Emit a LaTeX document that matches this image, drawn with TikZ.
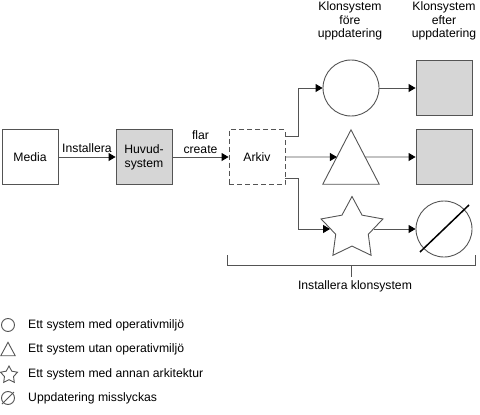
\documentclass[tikz,border=0pt]{standalone}
\usepackage{fontspec}
\setmainfont{Liberation Sans}
\usetikzlibrary{
    arrows.meta,
    shapes.geometric,
    calc,
    positioning
}
\definecolor{boxgray}{gray}{0.84}
\definecolor{linegray}{gray}{0.33}

\begin{document}
\begin{tikzpicture}[x=1pt, y=-1pt,
    every node/.style={font=\fontsize{12.2}{13.8}\selectfont, align=center},
    sysbox/.style={draw=linegray, line width=0.9pt, minimum width=56pt, minimum height=55pt, inner sep=0pt},
    shapeline/.style={draw=linegray, line width=0.9pt},
    arr/.style={draw=linegray, line width=0.9pt, -{Triangle[length=7pt, width=8pt, color=black]}}
]
                        \useasboundingbox (0, 0) rectangle (480, 415);

                        % main chain
                        \node[sysbox] (media) at (30, 157) {Media};
                        \node[sysbox, fill=boxgray] (huvud) at (144, 157) {Huvud-\\system};
                        \node[sysbox, dash pattern=on 5pt off 3pt] (arkiv) at (257, 157) {Arkiv};

                        \draw[arr] (media) -- node[above, inner sep=4pt] {Installera} (huvud);
                        \draw[arr] (huvud) -- node[above, inner sep=3pt] {flar\\create} (arkiv);

                        % clone systems before update
                        \node[circle, shapeline, minimum size=56pt, inner sep=0pt] (med) at (351, 88) {};
                        \node[minimum width=56pt, minimum height=54pt, inner sep=0pt] (utan) at (351, 157) {};
                        \draw[shapeline] (utan.north) -- (utan.south east) -- (utan.south west) -- cycle;
                        \node[star, star points=5, star point ratio=1.9, minimum size=65pt, inner sep=0pt, shapeline] (annan) at (352, 229) {};

                        % clone systems after update
                        \node[sysbox, fill=boxgray] (efterA) at (444, 88) {};
                        \node[sysbox, fill=boxgray] (efterB) at (444, 157) {};
                        \node[circle, shapeline, minimum size=56pt, inner sep=0pt] (fel) at (444, 229) {};
                        \draw[line width=1.5pt] ($(fel.center) + (-24, 23)$) -- ($(fel.center) + (25, -24)$);

                        \draw[arr] ([yshift=-7pt]arkiv.north east) -- ++(13, 0) |- (med);
                        \draw[arr] (arkiv) -- ($(utan.north)!0.5!(utan.south west)$);
                        \draw[arr] ([yshift=7pt]arkiv.south east) -- ++(13, 0) |- (annan);

                        \draw[arr] (med) -- (efterA);
                        \draw[arr] ($(utan.north)!0.5!(utan.south east)$) -- (efterB);
                        \draw[arr] (annan) -- (fel);

                        \node (fore) at (350, 21) {Klonsystem\\före\\uppdatering};
                        \node (efter) at (444, 21) {Klonsystem\\efter\\uppdatering};

                        % bracket
                        \coordinate (bl) at (227, 255);
                        \coordinate (br) at (475, 255);
                        \coordinate (bm) at (351, 265);
                        \draw[shapeline] (bl) -- ++(0, 10) -| (br);
                        \node (install) at (355, 286) {Installera klonsystem};
                        \draw[shapeline] (bm) -- ++(0, 12);

                        % legend
                        \node[circle, shapeline, minimum size=13pt, inner sep=0pt] (lmed) at (8, 325) {};
                        \node[minimum width=14pt, minimum height=13pt, inner sep=0pt] (lutan) at (8, 349) {};
                        \draw[shapeline] (lutan.north) -- (lutan.south east) -- (lutan.south west) -- cycle;
                        \node[star, star points=5, star point ratio=1.9, minimum size=18pt, inner sep=0pt, shapeline] (lannan) at (9, 375) {};
                        \node[circle, shapeline, minimum size=13pt, inner sep=0pt] (lfel) at (8, 398) {};
                        \draw[shapeline] ($(lfel.center) + (-6, 6)$) -- ($(lfel.center) + (6, -6)$);

                        \node[anchor=west, inner sep=0pt] at (28, 325) {Ett system med operativmiljö};
                        \node[anchor=west, inner sep=0pt] at (28, 349) {Ett system utan operativmiljö};
                        \node[anchor=west, inner sep=0pt] at (28, 374) {Ett system med annan arkitektur};
                        \node[anchor=west, inner sep=0pt] at (28, 398) {Uppdatering misslyckas};
                    \end{tikzpicture}
\end{document}
